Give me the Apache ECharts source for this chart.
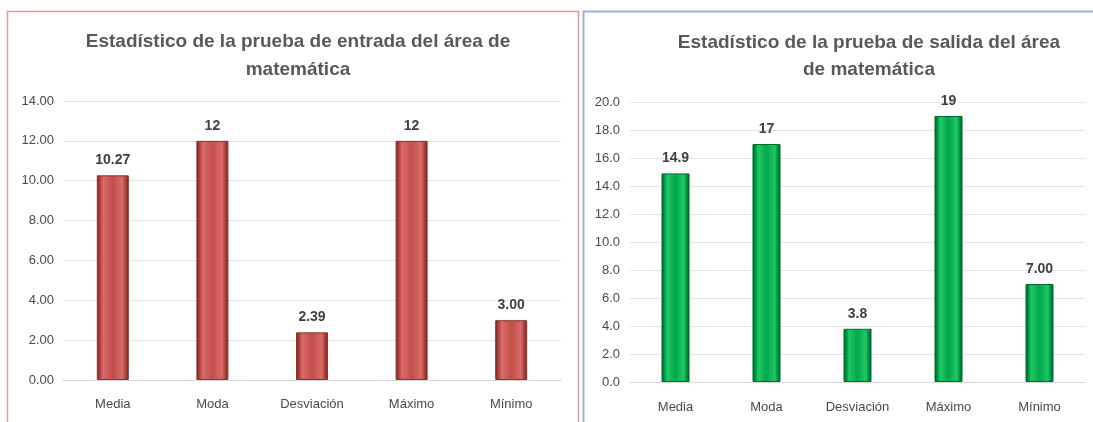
<!DOCTYPE html>
<html><head><meta charset="utf-8">
<script src="https://cdn.jsdelivr.net/npm/echarts@6/dist/echarts.min.js"></script>
<style>html,body{margin:0;padding:0;background:#fff}#c{width:1093px;height:422px}</style>
</head><body><div id="c"></div>
<script>
const categories = ['Media','Moda','Desviación','Máximo','Mínimo'];
const entradaValues = [10.27, 12, 2.39, 12, 3.00];
const entradaLabels = ['10.27','12','2.39','12','3.00'];
const salidaValues = [14.9, 17, 3.8, 19, 7.00];
const salidaLabels = ['14.9','17','3.8','19','7.00'];
const titleEntrada = 'Estadístico de la prueba de entrada del área de\nmatemática';
const titleSalida = 'Estadístico de la prueba de salida del área\nde matemática';

const FONT = '"Liberation Sans",Arial,sans-serif';
function grad(dark, mid, light){
  return new echarts.graphic.LinearGradient(0,0,1,0,[
    {offset:0,color:dark},{offset:0.14,color:mid},{offset:0.2,color:light},
    {offset:0.5,color:mid},{offset:0.8,color:light},{offset:0.86,color:mid},{offset:1,color:dark}]);
}
const chart = echarts.init(document.getElementById('c'));
const axisLabel = {color:'#4a4a4a', fontSize:13, fontFamily:FONT};
chart.setOption({
  animation:false,
  graphic:[
    {type:'rect', shape:{x:7.5,y:11.5,width:571,height:420}, style:{fill:'none',stroke:'#d9a0a0',lineWidth:1.5}},
    {type:'rect', shape:{x:583.5,y:11.5,width:520,height:420}, style:{fill:'none',stroke:'#95b3d7',lineWidth:2}}
  ],
  title:[
    {text:titleEntrada, left:293, top:23, textAlign:'center',
     textStyle:{fontFamily:FONT,fontSize:19,fontWeight:'bold',color:'#595959',lineHeight:28,align:'center'}},
    {text:titleSalida, left:864, top:24, textAlign:'center',
     textStyle:{fontFamily:FONT,fontSize:19,fontWeight:'bold',color:'#595959',lineHeight:27,align:'center'}}
  ],
  grid:[
    {left:63, width:498, top:101, height:279},
    {left:630, width:455, top:102, height:280}
  ],
  xAxis:[
    {type:'category', gridIndex:0, data:categories, axisTick:{show:false},
     axisLine:{lineStyle:{color:'#d9d9d9'}}, axisLabel:Object.assign({margin:18},axisLabel)},
    {type:'category', gridIndex:1, data:categories, axisTick:{show:false},
     axisLine:{lineStyle:{color:'#d9d9d9'}}, axisLabel:Object.assign({margin:19},axisLabel)}
  ],
  yAxis:[
    {type:'value', gridIndex:0, min:0, max:14, interval:2,
     axisLabel:Object.assign({formatter:v=>v.toFixed(2), margin:9},axisLabel),
     splitLine:{lineStyle:{color:'#e3e3e3'}}},
    {type:'value', gridIndex:1, min:0, max:20, interval:2,
     axisLabel:Object.assign({formatter:v=>v.toFixed(1), margin:10},axisLabel),
     splitLine:{lineStyle:{color:'#e3e3e3'}}}
  ],
  series:[
    {type:'bar', xAxisIndex:0, yAxisIndex:0, data:entradaValues, barWidth:32,
     itemStyle:{color:grad('#6e2523','#c24f4b','#d86b67'), borderColor:'#8a3230', borderWidth:1},
     label:{show:true, position:'top', distance:8, formatter:p=>entradaLabels[p.dataIndex],
       fontFamily:FONT, fontSize:14, fontWeight:'bold', color:'#404040'}},
    {type:'bar', xAxisIndex:1, yAxisIndex:1, data:salidaValues, barWidth:28,
     itemStyle:{color:grad('#005a26','#00a84a','#22c866'), borderColor:'#006b2e', borderWidth:1},
     label:{show:true, position:'top', distance:8, formatter:p=>salidaLabels[p.dataIndex],
       fontFamily:FONT, fontSize:14, fontWeight:'bold', color:'#404040'}}
  ]
});
</script></body></html>
